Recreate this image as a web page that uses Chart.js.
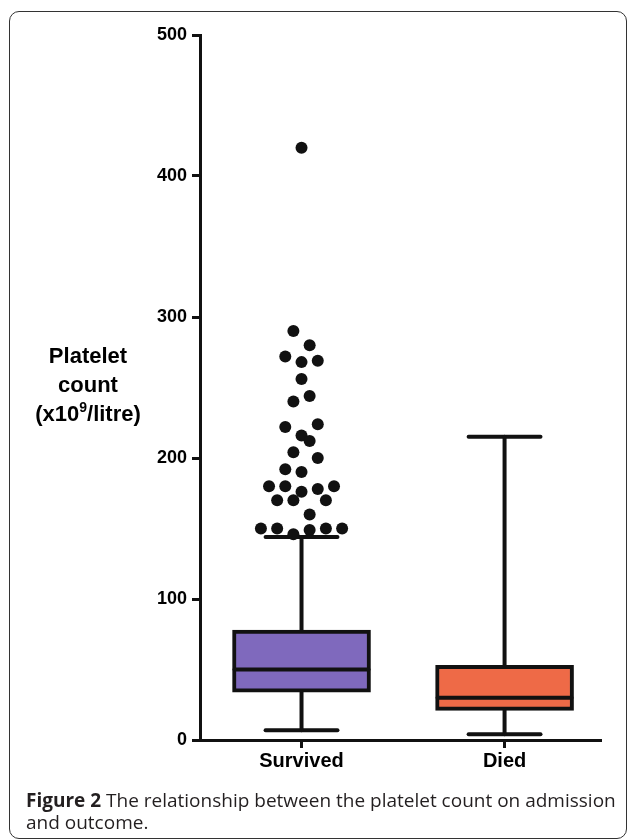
<!DOCTYPE html>
<html>
<head>
<meta charset="utf-8">
<script src="https://cdn.jsdelivr.net/npm/chart.js@4.4.1/dist/chart.umd.min.js"></script>
<style>
  body { margin: 0; background: #fff; }
  #wrap { position: relative; width: 629px; height: 840px; overflow: hidden; background: #fff; }
  .frame {
    position: absolute; left: 9px; top: 11px; width: 616px; height: 826px;
    border: 1.5px solid #333; border-radius: 10px;
  }
  .chart-box { position: absolute; left: 0; top: 0; width: 629px; height: 840px; }
  .ytitle {
    position: absolute; left: 28px; top: 341px; width: 120px;
    text-align: center; font: bold 22px "Liberation Sans", Arial, sans-serif;
    line-height: 29px; color: #000;
  }
  .ytitle sup { font-size: 14px; line-height: 0; vertical-align: 9px; }
  .caption {
    position: absolute; left: 26px; top: 789px; width: 600px;
    font: 19px "Open Sans", sans-serif; line-height: 22px; color: #231f20;
    white-space: nowrap;
  }
  .caption b { font-weight: 700; }
</style>
</head>
<body>
<div id="wrap">
  <div class="frame"></div>
  <div class="chart-box"><canvas id="mainChart"></canvas></div>
  <div class="ytitle">Platelet<br>count<br>(x10<sup>9</sup>/litre)</div>
  <div class="caption"><b>Figure 2</b> The relationship between the platelet count on admission<br>and outcome.</div>
</div>
<script>
// Groups and box statistics (platelet count, x10^9/litre)
const categories = ['Survived', 'Died'];
const boxMin    = [7, 4];
const boxQ1     = [34, 21];
const boxMedian = [50, 30];
const boxQ3     = [78, 53];
const boxMax    = [144, 215];
const boxColors = ['#7f69bd', '#ee6a47'];

// Outliers above the Survived whisker, with their horizontal spread in the swarm
const outlierValues = [420, 290, 280, 272, 269, 268, 256, 244, 240, 224, 222, 216, 212, 204, 200,
                       192, 190, 180, 180, 180, 178, 176, 170, 170, 170, 160,
                       150, 150, 150, 150, 149, 146];
const outlierJitter = [0, -0.04, 0.04, -0.08, 0.08, 0, 0, 0.04, -0.04, 0.08, -0.08, 0, 0.04, -0.04, 0.08,
                       -0.08, 0, -0.16, -0.08, 0.16, 0.08, 0, -0.12, -0.04, 0.12, 0.04,
                       -0.2, -0.12, 0.12, 0.2, 0.04, -0.04];

const yTicks = [0, 100, 200, 300, 400, 500];

const ink = '#111';
const capHalf = 0.177;
const medHalf = 0.33;

document.addEventListener('DOMContentLoaded', () => {
    const ctx = document.getElementById('mainChart').getContext('2d');

    const lineDs = (pts, order) => ({
        type: 'line',
        data: pts,
        borderColor: ink,
        borderWidth: 4,
        borderCapStyle: 'round',
        pointRadius: 0,
        fill: false,
        order: order
    });

    const datasets = [];

    // Outlier dots
    datasets.push({
        type: 'scatter',
        data: outlierValues.map((v, k) => ({ x: 0 + outlierJitter[k], y: v })),
        backgroundColor: ink,
        borderWidth: 0,
        pointRadius: 6,
        order: 0
    });

    categories.forEach((c, i) => {
        // median line
        datasets.push(lineDs([{ x: i - medHalf, y: boxMedian[i] }, { x: i + medHalf, y: boxMedian[i] }], 0));
        // whiskers
        datasets.push(lineDs([{ x: i, y: boxQ3[i] }, { x: i, y: boxMax[i] }], 2));
        datasets.push(lineDs([{ x: i, y: boxMin[i] }, { x: i, y: boxQ1[i] }], 2));
        // caps
        datasets.push(lineDs([{ x: i - capHalf, y: boxMax[i] }, { x: i + capHalf, y: boxMax[i] }], 2));
        datasets.push(lineDs([{ x: i - capHalf, y: boxMin[i] }, { x: i + capHalf, y: boxMin[i] }], 2));
    });

    // Boxes (Q1 to Q3)
    datasets.push({
        type: 'bar',
        data: categories.map((c, i) => ({ x: i, y: [boxQ1[i], boxQ3[i]] })),
        backgroundColor: boxColors,
        borderColor: ink,
        borderWidth: 4,
        borderSkipped: false,
        barThickness: 138,
        order: 1
    });

    new Chart(ctx, {
        type: 'bar',
        data: { datasets },
        options: {
            responsive: true,
            maintainAspectRatio: false,
            animation: false,
            layout: { padding: { top: 35, right: 29, left: 0, bottom: 0 } },
            plugins: {
                legend: { display: false },
                tooltip: { enabled: false }
            },
            scales: {
                x: {
                    type: 'linear',
                    offset: false,
                    min: -0.5,
                    max: 1.47,
                    afterBuildTicks: (scale) => { scale.ticks = categories.map((c, i) => ({ value: i })); },
                    afterFit: (scale) => { scale.height = 100; },
                    ticks: {
                        callback: (v, idx) => categories[idx],
                        color: '#000',
                        font: { family: '"Liberation Sans", Arial, sans-serif', size: 20, weight: 'bold' },
                        padding: 1,
                        maxRotation: 0
                    },
                    grid: { offset: false, drawOnChartArea: false, drawTicks: true, tickLength: 8, color: ink, lineWidth: 3 },
                    border: { display: true, color: ink, width: 3 }
                },
                y: {
                    type: 'linear',
                    min: 0,
                    max: 500,
                    afterBuildTicks: (scale) => { scale.ticks = yTicks.map(v => ({ value: v })); },
                    afterFit: (scale) => { scale.width = 200; },
                    ticks: {
                        color: '#000',
                        font: { family: '"Liberation Sans", Arial, sans-serif', size: 18, weight: 'bold' },
                        padding: 5
                    },
                    grid: { drawOnChartArea: false, drawTicks: true, tickLength: 8, color: ink, lineWidth: 3 },
                    border: { display: true, color: ink, width: 3 }
                }
            }
        }
    });
});
</script>
</body>
</html>
